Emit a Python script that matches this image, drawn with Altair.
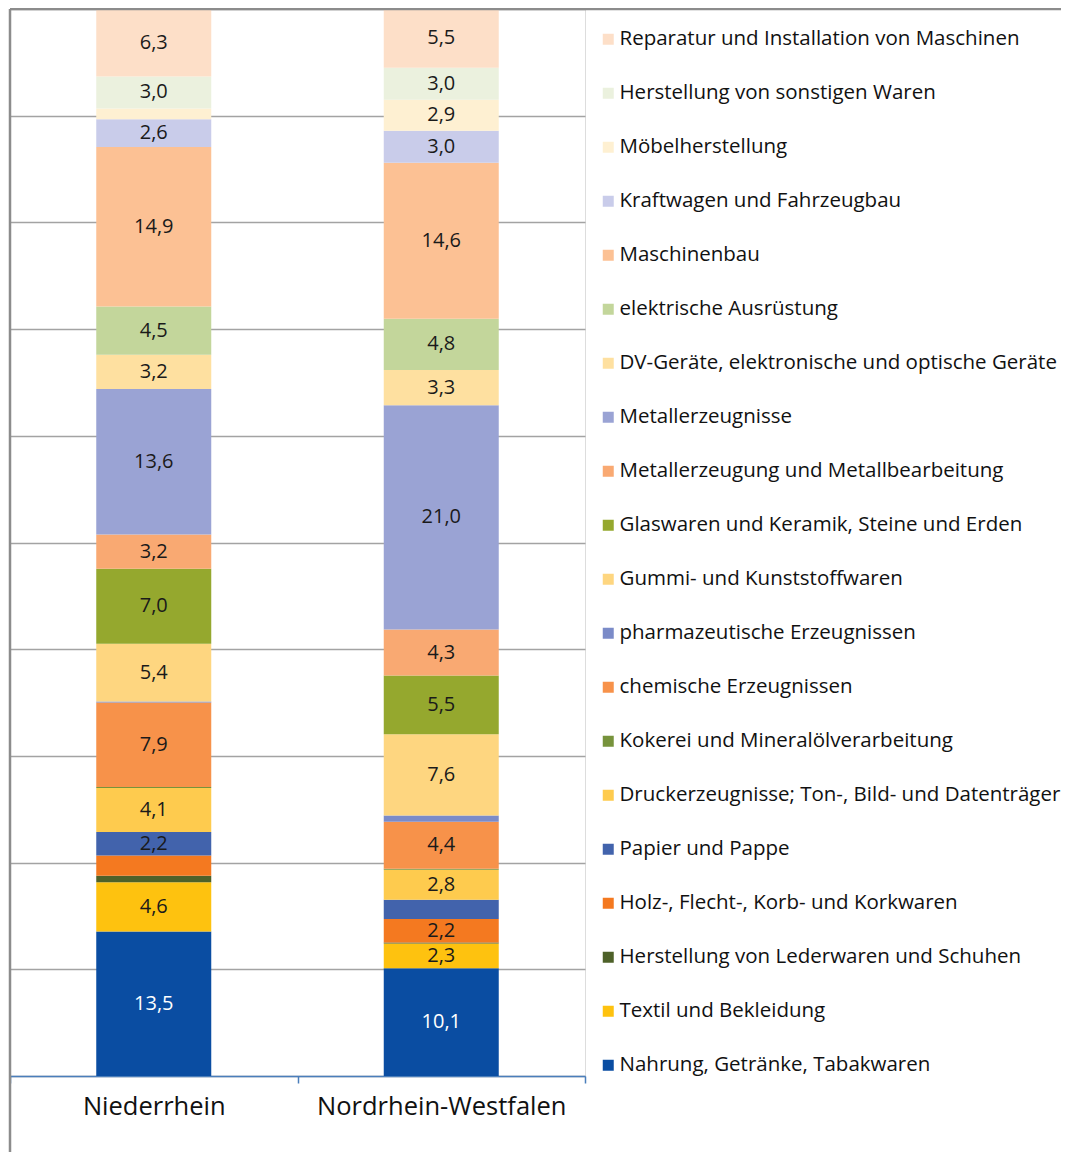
import altair as alt
import pandas as pd

regions = ["Niederrhein", "Nordrhein-Westfalen"]

# stack order: bottom -> top
sectors = [
    "Nahrung, Getränke, Tabakwaren",
    "Textil und Bekleidung",
    "Herstellung von Lederwaren und Schuhen",
    "Holz-, Flecht-, Korb- und Korkwaren",
    "Papier und  Pappe",
    "Druckerzeugnisse; Ton-, Bild- und Datenträger",
    "Kokerei und Mineralölverarbeitung",
    "chemische Erzeugnissen",
    "pharmazeutische Erzeugnissen",
    "Gummi- und Kunststoffwaren",
    "Glaswaren und Keramik, Steine und Erden",
    "Metallerzeugung und Metallbearbeitung",
    "Metallerzeugnisse",
    "DV-Geräte, elektronische und optische Geräte",
    "elektrische Ausrüstung",
    "Maschinenbau",
    "Kraftwagen und Fahrzeugbau",
    "Möbelherstellung",
    "Herstellung von sonstigen Waren",
    "Reparatur und Installation von Maschinen",
]

colors = [
    "#0A4DA2", "#FEC20F", "#4E6129", "#F47920", "#4263AC",
    "#FECB4E", "#77933C", "#F7924A", "#7B8BC8", "#FED680",
    "#95A82E", "#F9A972", "#9AA3D4", "#FEE0A0", "#C3D69B",
    "#FCC194", "#C9CCEA", "#FEF0D2", "#EBF1DE", "#FDDFC8",
]

niederrhein = [13.5, 4.6, 0.6, 1.9, 2.2, 4.1, 0.1, 7.9, 0.1, 5.4,
               7.0, 3.2, 13.6, 3.2, 4.5, 14.9, 2.6, 1.0, 3.0, 6.3]
nrw = [10.1, 2.3, 0.1, 2.2, 1.8, 2.8, 0.1, 4.4, 0.6, 7.6,
       5.5, 4.3, 21.0, 3.3, 4.8, 14.6, 3.0, 2.9, 3.0, 5.5]

rows = []
for i, s in enumerate(sectors):
    rows.append({"region": regions[0], "sector": s, "order": i, "value": niederrhein[i]})
    rows.append({"region": regions[1], "sector": s, "order": i, "value": nrw[i]})
df = pd.DataFrame(rows)

legend_order = list(reversed(sectors))
legend_colors = list(reversed(colors))

W, H = 575, 1067
FONT = "Open Sans"

base = alt.Chart(df).transform_stack(
    stack="value",
    as_=["y0", "y1"],
    groupby=["region"],
    sort=[alt.SortField("order", order="ascending")],
    offset="normalize",
)

xscale = alt.Scale(paddingInner=0, paddingOuter=0)

xenc = alt.X(
    "region:N",
    sort=regions,
    scale=xscale,
    axis=alt.Axis(
        title=None,
        tickBand="extent",
        domainColor="#4A7EBB",
        domainWidth=1.5,
        tickColor="#4A7EBB",
        tickWidth=1.5,
        tickSize=7,
        labelFont=FONT,
        labelFontSize=25.5,
        labelColor="#111111",
        labelPadding=11,
        labelAngle=0,
        labelLimit=500,
        grid=False,
    ),
)

bars = base.mark_bar(strokeWidth=0, width=alt.RelativeBandSize(0.4)).encode(
    x=xenc,
    y=alt.Y(
        "y0:Q",
        scale=alt.Scale(domain=[0, 1], nice=False),
        axis=alt.Axis(
            title=None,
            labels=False,
            ticks=False,
            domain=False,
            grid=True,
            values=[0.1 * k for k in range(11)],
            gridColor="#A3A3A3",
            gridWidth=1.5,
        ),
    ),
    y2="y1:Q",
    color=alt.Color(
        "sector:N",
        scale=alt.Scale(domain=legend_order, range=legend_colors),
        legend=alt.Legend(
            title=None,
            orient="none",
            legendX=588,
            legendY=20,
            symbolType="square",
            symbolSize=121,
            symbolStrokeWidth=0,
            labelFont=FONT,
            labelFontSize=20.5,
            labelColor="#111111",
            labelOffset=1,
            labelLimit=600,
            rowPadding=33,
            padding=0,
        ),
    ),
)

labels = base.transform_filter("datum.value >= 2").transform_calculate(
    mid="(datum.y0 + datum.y1) / 2",
    label="replace(format(datum.value, '.1f'), '.', ',')",
).mark_text(font=FONT, fontSize=20).encode(
    x=alt.X("region:N", sort=regions, scale=xscale),
    y=alt.Y("mid:Q"),
    text="label:N",
    color=alt.condition(
        "datum.order == 0", alt.value("white"), alt.value("#1a1a1a")
    ),
)

frame_left = alt.Chart(alt.Data(values=[{}])).mark_rule(
    color="#8C8C8C", strokeWidth=2.5
).encode(x=alt.value(0), y=alt.value(0), y2=alt.value(1144))

frame_top = alt.Chart(alt.Data(values=[{}])).mark_rule(
    color="#8C8C8C", strokeWidth=2.5
).encode(x=alt.value(0), x2=alt.value(1051), y=alt.value(0))

chart = alt.layer(bars, labels, frame_left, frame_top).properties(
    width=W,
    height=H,
    autosize=alt.AutoSizeParams(type="none"),
    padding={"left": 2, "top": 1, "right": 476, "bottom": 76},
).configure_view(stroke="#8C8C8C", strokeWidth=2).configure(background="white")

chart.save("out.html", embed_options={"renderer": "svg", "actions": False})
